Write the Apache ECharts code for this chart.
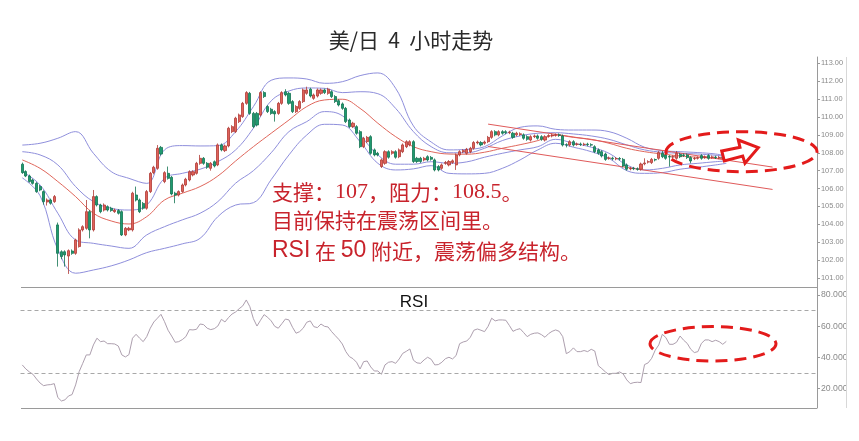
<!DOCTYPE html>
<html><head><meta charset="utf-8">
<script src="https://cdn.jsdelivr.net/npm/echarts/dist/echarts.min.js"></script>
<style>html,body{margin:0;padding:0;background:#fff}#c{width:859px;height:441px}</style>
</head><body><div id="c"></div><script>
// candles: [open, close, low, high]
const ohlc = [
[107.36,106.89,106.82,107.45],[106.95,106.70,106.64,107.02],[106.70,106.39,106.33,106.78],[106.48,106.29,106.22,106.55],[106.29,105.83,105.76,106.36],
[106.11,105.92,105.85,106.20],[105.83,105.27,105.10,105.90],[105.25,105.36,105.05,105.45],[105.36,105.18,105.10,105.44],[105.27,105.55,105.20,105.64],
[103.97,102.38,101.64,104.10],[102.47,102.20,102.05,102.55],[102.47,102.29,101.64,102.55],[102.23,102.53,101.23,102.60],[102.51,102.38,102.30,102.60],
[102.38,103.13,102.30,103.20],[102.76,103.69,102.70,103.78],[103.69,103.87,103.60,103.95],[103.78,104.71,103.70,105.36],[104.71,103.69,103.22,104.80],
[103.69,105.55,103.60,105.92],[105.55,105.08,105.00,105.62],[105.08,104.71,104.62,105.15],[104.80,105.08,104.72,105.17],[104.99,104.80,104.72,105.06],
[104.90,104.77,104.70,104.98],[104.71,104.80,104.64,104.88],[104.77,104.62,104.55,104.85],[104.71,103.41,103.35,104.78],[103.41,103.78,103.34,103.85],
[103.69,103.78,103.62,103.86],[103.69,105.74,103.60,105.82],[105.64,105.36,105.28,106.11],[105.36,104.71,104.63,105.44],[105.17,104.90,104.82,105.25],
[104.90,105.83,104.82,105.92],[105.83,106.85,105.75,106.93],[106.89,107.19,106.80,107.27],[107.13,108.25,107.05,108.43],[108.30,107.93,107.85,108.38],
[106.39,106.89,106.30,106.97],[106.85,106.57,106.50,107.23],[106.63,105.70,105.62,106.70],[105.74,105.64,105.18,105.82],[105.64,105.83,105.56,105.90],
[105.83,106.20,105.76,106.28],[106.20,106.52,106.12,106.60],[106.48,106.94,106.40,107.02],[106.76,106.94,106.68,107.02],[106.85,107.41,106.78,107.49],
[107.41,107.69,107.33,107.88],[107.69,107.41,107.33,107.76],[107.41,107.19,107.10,107.48],[107.13,107.41,107.00,107.48],[107.50,107.26,107.18,107.57],
[107.32,108.44,107.25,108.52],[108.44,108.16,108.08,108.52],[108.12,108.38,108.04,108.46],[108.38,109.37,108.30,109.45],[109.18,109.46,109.10,109.54],
[109.18,109.93,109.10,110.01],[109.74,110.11,109.66,110.19],[110.02,110.76,109.95,110.84],[110.76,111.36,110.68,111.44],[111.32,110.20,110.12,111.40],
[110.20,109.46,109.38,110.28],[110.20,109.55,109.47,110.28],[110.11,111.36,110.03,111.44],[111.36,111.14,111.06,111.44],[110.58,110.30,110.22,110.66],
[110.43,110.20,110.12,110.51],[110.30,110.17,109.74,110.38],[110.20,110.76,110.12,110.84],[110.76,111.36,110.68,111.44],[111.41,111.23,111.15,111.55],
[111.32,110.76,110.68,111.40],[110.86,110.30,110.22,110.94],[110.30,110.58,110.22,110.66],[110.48,110.86,110.40,110.94],[110.86,111.51,110.78,111.59],
[111.32,111.51,111.24,111.69],[111.55,111.17,111.09,111.63],[111.04,111.23,110.96,111.31],[111.17,111.51,111.09,111.59],[111.32,111.51,111.24,111.59],
[111.51,111.36,111.28,111.59],[111.32,111.55,111.24,111.63],[111.41,111.14,111.06,111.49],[111.14,110.86,110.78,111.22],[110.91,110.67,110.59,110.99],
[110.73,110.48,110.40,110.81],[110.48,109.74,109.66,110.56],[109.83,109.46,109.38,109.91],[109.46,109.65,109.38,109.73],[109.46,109.09,109.01,109.54],
[109.18,108.34,108.26,109.26],[108.34,108.81,108.26,108.89],[108.62,108.86,108.54,108.94],[108.90,107.97,107.89,108.98],[108.16,107.88,107.80,108.24],
[107.97,107.88,107.80,108.05],[107.23,107.60,107.15,107.68],[107.41,108.06,107.33,108.14],[108.06,107.75,107.67,108.14],[107.97,108.06,107.89,108.14],
[108.06,107.75,107.67,108.14],[107.78,108.16,107.70,108.24],[108.06,108.44,107.98,108.52],[108.34,108.62,108.26,108.70],[108.44,108.62,108.36,108.70],
[108.62,107.51,107.43,108.70],[107.69,107.51,107.43,107.77],[107.69,107.51,107.43,107.77],[107.60,107.69,107.52,107.77],[107.78,107.60,107.52,107.86],
[107.74,107.64,107.56,107.82],[107.60,107.04,106.96,107.68],[107.23,107.04,106.96,107.31],[107.13,107.32,107.05,107.40],[107.41,107.46,107.33,107.54],
[107.32,107.51,107.24,107.59],[107.46,107.55,107.38,107.63],[107.32,107.88,107.04,107.96],[107.88,108.06,107.80,108.14],[108.06,108.12,107.98,108.20],
[107.97,108.19,107.89,108.27],[108.06,108.25,107.98,108.33],[108.25,108.57,108.17,108.65],[108.55,108.60,108.47,108.68],[108.57,108.44,108.36,108.65],
[108.53,108.60,108.45,108.68],[108.62,108.86,108.54,108.94],[108.86,109.18,108.78,109.26],[109.18,109.00,108.92,109.26],[109.00,109.18,108.92,109.26],
[109.18,109.09,109.01,109.26],[109.18,109.12,109.04,109.26],[109.12,109.15,109.04,109.23],[109.09,108.86,108.78,109.17],[109.00,109.09,108.92,109.17],
[109.02,109.06,108.94,109.14],[109.00,108.81,108.73,109.08],[108.90,108.75,108.67,108.98],[108.71,108.90,108.63,108.98],[108.90,108.94,108.82,109.02],
[108.94,108.81,108.73,109.02],[108.90,108.75,108.67,108.98],[108.71,108.90,108.63,108.98],[108.92,108.96,108.84,109.04],[108.94,108.99,108.86,109.07],
[108.98,109.00,108.90,109.08],[109.00,108.97,108.89,109.08],[108.94,108.43,108.35,109.02],[108.45,108.43,108.30,108.53],[108.43,108.62,108.35,108.70],
[108.62,108.43,108.35,108.70],[108.47,108.49,108.39,108.57],[108.49,108.46,108.38,108.57],[108.46,108.48,108.38,108.56],[108.48,108.45,108.37,108.56],
[108.45,108.43,108.35,108.53],[108.34,108.06,107.98,108.42],[108.16,107.97,107.89,108.24],[108.06,107.82,107.74,108.14],[107.93,107.63,107.55,108.01],
[107.69,107.71,107.61,107.79],[107.70,107.66,107.58,107.78],[107.66,107.68,107.58,107.76],[107.68,107.65,107.57,107.76],[107.63,107.26,107.18,107.71],
[107.32,107.08,107.00,107.40],[107.10,107.13,107.02,107.21],[107.13,107.11,107.03,107.21],[107.10,107.08,107.00,107.18],[107.08,107.37,107.00,107.45],
[107.38,107.43,107.30,107.69],[107.48,107.50,107.40,107.58],[107.45,107.63,107.37,107.71],[107.62,107.60,107.52,107.68],[107.69,108.01,107.61,108.09],
[107.97,107.78,107.70,108.10],[107.88,107.69,107.61,107.96],[107.79,107.76,107.23,107.87],[107.76,107.78,107.68,107.86],[107.69,107.97,107.61,108.10],
[107.91,107.78,107.70,107.99],[107.88,107.85,107.77,107.96],[107.88,107.73,107.65,107.96],[107.73,107.54,107.41,107.81],[107.67,107.69,107.59,107.77],
[107.69,107.72,107.62,107.80],[107.84,107.69,107.61,107.92],[107.74,107.77,107.66,107.85],[107.84,107.69,107.61,107.92],[107.74,107.77,107.66,107.85],
[107.76,107.73,107.65,107.84],[107.72,107.74,107.64,107.82],[107.75,107.73,107.65,107.83],[107.74,107.77,107.66,107.85]
];
const rsi = [35.2,32.6,30.7,29.2,26.2,23.6,21.9,22.4,22.6,23.2,
14.3,12.1,12.8,15.3,16.2,22.4,30.9,36.2,41.6,41.6,
48.0,52.3,50.1,50.5,48.8,48.8,48.6,47.3,41.6,40.3,
41.8,52.3,54.8,52.3,50.1,53.3,58.7,62.7,65.1,67.6,
62.9,57.4,53.7,49.7,50.1,51.4,53.3,57.8,57.6,58.0,
61.4,61.0,58.7,57.8,58.4,60.1,64.4,62.7,65.5,67.8,
69.1,71.2,73.0,76.8,72.5,64.8,60.1,63.8,67.4,65.7,
63.4,59.9,58.7,61.6,64.6,64.0,59.3,55.5,56.5,58.7,
62.5,63.4,59.7,59.1,61.4,59.9,59.5,56.5,54.0,51.6,
48.6,43.7,40.5,39.2,36.9,32.6,37.3,37.7,33.9,31.3,
31.3,29.2,35.2,36.9,37.3,36.2,39.0,42.6,43.9,45.4,
38.2,36.5,36.2,38.4,40.1,38.8,35.2,35.4,36.9,39.2,
40.1,39.0,41.2,48.8,49.9,50.5,52.9,57.4,58.2,57.4,
56.5,59.9,65.1,63.4,64.0,64.0,63.8,60.4,56.7,57.8,
58.4,55.9,53.3,54.8,55.5,55.7,54.6,52.9,55.2,56.7,
57.6,56.7,53.3,42.4,43.7,46.1,43.7,43.7,44.4,43.7,
45.2,44.1,34.7,32.8,30.7,29.0,29.8,29.8,30.7,29.4,
25.6,23.2,23.9,24.1,23.9,35.4,36.5,39.4,44.6,48.0,
54.8,52.7,48.4,48.4,49.7,53.7,51.0,49.0,45.2,43.1,
43.7,49.0,51.2,51.2,50.1,51.0,50.1,48.4,50.3];
// band lines read at these candle positions
const bandIdx = [0,5,10,15,20,25,30,35,40,45,50,55,60,65,70,75,80,85,90,95,100,105,110,115,120,125,130,135,140,145,150,155,160,165,170,175,180,185,190,195,198];
const upperOuter = [108.43,108.53,108.81,109.18,107.97,106.95,106.57,106.29,108.16,108.40,108.38,108.40,109.18,110.58,112.05,112.18,112.12,111.88,111.97,112.31,112.46,111.60,109.50,108.60,108.16,108.19,108.34,108.94,109.42,109.50,109.31,109.27,109.27,109.18,108.81,108.31,108.12,108.06,108.01,107.93,107.82];
const upperInner = [108.06,107.88,107.32,106.11,105.27,104.90,104.80,105.08,106.57,106.85,107.08,107.50,108.16,109.37,110.90,111.45,111.62,111.60,111.36,111.41,111.30,110.48,109.18,108.34,108.00,108.00,108.25,108.68,108.94,109.09,109.12,109.05,108.94,108.75,108.44,108.16,108.03,107.97,107.93,107.86,107.79];
const midLine = [107.60,107.13,106.39,105.55,104.62,104.19,104.02,104.43,105.36,105.74,106.11,106.70,107.54,108.34,109.09,109.83,110.58,110.95,110.99,110.48,109.65,108.90,108.34,108.06,107.93,107.92,108.03,108.25,108.45,108.68,108.99,108.86,108.75,108.53,108.25,108.06,107.93,107.82,107.75,107.69,107.67];
const lowerInner = [106.95,106.20,104.62,103.13,102.94,102.79,102.66,103.41,103.87,104.25,104.62,105.27,106.30,107.00,108.00,109.18,109.74,110.30,110.07,109.00,107.88,107.36,107.36,107.50,107.41,107.49,107.75,107.97,108.16,108.34,108.75,108.53,108.31,107.97,107.32,107.04,107.13,107.32,107.41,107.50,107.54];
const lowerOuter = [106.60,105.60,102.60,101.27,101.45,101.68,102.01,102.42,102.66,102.91,103.22,104.43,105.08,105.21,106.50,107.88,108.99,109.59,109.55,108.62,107.41,107.04,107.10,107.28,106.85,106.82,106.85,107.13,107.60,108.16,108.53,108.31,108.06,107.69,107.00,106.85,106.89,107.08,107.19,107.32,107.41];
const trendUpper = [[131,109.60],[211,107.20]];
const trendLower = [[131,108.35],[211,105.95]];
const priceTicks = [101,102,103,104,105,106,107,108,109,110,111,112,113];
const rsiTicks = [20,40,60,80];
const rsiLevels = [70,30];
const nCat = 224;
const cats = Array.from({length:nCat},(_,i)=>String(i));

const chart = echarts.init(document.getElementById('c'));
const bandCol = '#8f8fdc';
const pair = arr => bandIdx.map((x,k)=>[x,arr[k]]);
const bandSeries = (arr,col) => ({type:'line',xAxisIndex:0,yAxisIndex:0,data:pair(arr),smooth:0.4,symbol:'none',lineStyle:{color:col,width:1},z:3,silent:true});
const red = '#c8232c';
chart.setOption({
  animation:false,
  backgroundColor:'#fff',
  grid:[{left:20.5,top:57,width:796.5,height:230},{left:20.5,top:287,width:796.5,height:121}],
  xAxis:[
    {type:'category',data:cats,gridIndex:0,boundaryGap:true,axisLine:{show:false},axisTick:{show:false},axisLabel:{show:false},splitLine:{show:false}},
    {type:'category',data:cats,gridIndex:1,boundaryGap:true,axisLine:{show:false},axisTick:{show:false},axisLabel:{show:false},splitLine:{show:false}}
  ],
  yAxis:[
    {type:'value',gridIndex:0,position:'right',min:100.5,max:113.35,scale:true,
     axisLine:{show:true,lineStyle:{color:'#9a9a9a'}},
     axisTick:{show:true,length:3,customValues:priceTicks,lineStyle:{color:'#9a9a9a'}},
     axisLabel:{customValues:priceTicks,formatter:v=>v.toFixed(2),fontSize:7.4,color:'#8a8a8a',margin:4,fontFamily:'Liberation Sans'},
     splitLine:{show:false}},
    {type:'value',gridIndex:1,position:'right',min:7.6,max:85.1,
     axisLine:{show:true,lineStyle:{color:'#9a9a9a'}},
     axisTick:{show:true,length:3,customValues:rsiTicks,lineStyle:{color:'#9a9a9a'}},
     axisLabel:{customValues:rsiTicks,formatter:v=>v.toFixed(4),fontSize:8.7,color:'#8a8a8a',margin:4,fontFamily:'Liberation Sans'},
     splitLine:{show:false}}
  ],
  series:[
    {type:'candlestick',xAxisIndex:0,yAxisIndex:0,data:ohlc,barWidth:2.6,
     itemStyle:{color:'#e0625a',color0:'#1f9a70',borderColor:'#b03a35',borderColor0:'#137452',borderWidth:0.8},z:4},
    bandSeries(upperOuter,bandCol),
    bandSeries(upperInner,bandCol),
    bandSeries(midLine,'#e0675c'),
    bandSeries(lowerInner,bandCol),
    bandSeries(lowerOuter,bandCol),
    {type:'line',xAxisIndex:0,yAxisIndex:0,data:trendUpper,symbol:'none',lineStyle:{color:'#e05a5a',width:1},z:3,silent:true},
    {type:'line',xAxisIndex:0,yAxisIndex:0,data:trendLower,symbol:'none',lineStyle:{color:'#e05a5a',width:1},z:3,silent:true},
    {type:'line',xAxisIndex:1,yAxisIndex:1,data:rsi,symbol:'none',lineStyle:{color:'#ad9fae',width:1},silent:true,
     markLine:{silent:true,symbol:['none','none'],label:{show:false},
       lineStyle:{color:'#a8a8a8',type:[4,3],width:1},
       data:rsiLevels.map(v=>({yAxis:v}))}}
  ],
  graphic:[
    {type:'line',shape:{x1:21,y1:287.5,x2:817,y2:287.5},style:{stroke:'#9a9a9a',lineWidth:1},z:50},
    {type:'line',shape:{x1:21,y1:408.5,x2:817,y2:408.5},style:{stroke:'#9a9a9a',lineWidth:1},z:50},
    {type:'rect',shape:{x:847,y:50,width:12,height:370},style:{fill:'#fff'},z:60},
    {type:'line',shape:{x1:846.5,y1:57,x2:846.5,y2:408},style:{stroke:'#d8d8d8',lineWidth:1},z:61},
    {type:'text',x:411,y:40,style:{text:'美/日  4  小时走势',fill:'#2a2a2a',font:'21px "Noto Sans CJK SC"',align:'center',verticalAlign:'middle'},z:70},
    {type:'text',x:414,y:302,style:{text:'RSI',fill:'#111',font:'17px "Liberation Sans"',align:'center',verticalAlign:'middle'},z:70},
    {type:'text',x:272,y:192,style:{text:'支撑：{d|107}，阻力：{d|108.5}。',fill:red,font:'21px "Noto Sans CJK SC"',align:'left',verticalAlign:'middle',
      rich:{d:{fontFamily:'Liberation Serif',fontSize:22,fill:red}}},z:70},
    {type:'text',x:272,y:220,style:{text:'目前保持在震荡区间里。',fill:red,font:'21px "Noto Sans CJK SC"',align:'left',verticalAlign:'middle'},z:70},
    {type:'text',x:272,y:251,style:{text:'{a|RSI} 在 {a|50} 附近，震荡偏多结构。',fill:red,font:'21px "Noto Sans CJK SC"',align:'left',verticalAlign:'middle',
      rich:{a:{fontFamily:'Liberation Sans',fontSize:23,fill:red}}},z:70},
    {type:'ellipse',shape:{cx:741.5,cy:151.7,rx:75.5,ry:20},style:{fill:'none',stroke:'#e31b1b',lineWidth:3,lineDash:[12,7]},z:80},
    {type:'ellipse',shape:{cx:713,cy:343.8,rx:63,ry:17.2},style:{fill:'none',stroke:'#e31b1b',lineWidth:3,lineDash:[12,7]},z:80},
    {type:'polygon',shape:{points:[[721.7,151],[740,147.3],[738.3,140],[758.3,147.7],[745,163.3],[742.7,156],[724.3,161]]},
      style:{fill:'#fff',stroke:'#e31b1b',lineWidth:3,lineJoin:'miter'},z:80}
  ]
});
</script></body></html>
